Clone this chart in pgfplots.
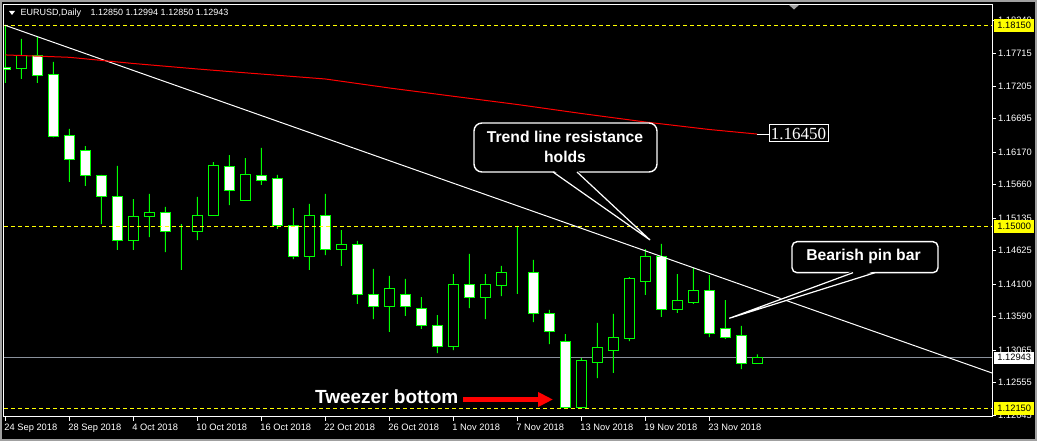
\documentclass[border=0pt]{standalone}
\usepackage{fontspec}
\setmainfont{Liberation Sans}
\newfontfamily\serifmt{Liberation Serif}
\usepackage{pgfplots}
\usepackage{pgfplotstable}
\pgfplotsset{compat=1.18}
\usetikzlibrary{arrows.meta}

\definecolor{lime}{HTML}{00FF00}
\definecolor{bidgray}{HTML}{8A919C}
\definecolor{mtyellow}{HTML}{FFFF00}
\definecolor{wingray}{HTML}{A0A0A0}

% EURUSD daily candles, 24 Sep 2018 = 0
\pgfplotstableread{
i O H L C
0 1.17490 1.18161 1.17251 1.17460
1 1.17476 1.17941 1.17314 1.17675
2 1.17675 1.17973 1.17251 1.17366
3 1.17377 1.17581 1.16397 1.16405
4 1.16420 1.16530 1.15699 1.16044
5 1.16185 1.16263 1.15636 1.15793
6 1.15793 1.15809 1.15040 1.15479
7 1.15479 1.15950 1.14633 1.14789
8 1.14774 1.15432 1.14633 1.15150
9 1.15150 1.15511 1.14836 1.15213
10 1.15213 1.15307 1.14601 1.14915
11 1.14915 1.15040 1.14319 1.14915
12 1.14915 1.15464 1.14789 1.15181
13 1.15166 1.16012 1.15166 1.15950
14 1.15934 1.16122 1.15338 1.15573
15 1.15401 1.16075 1.15401 1.15809
16 1.15793 1.16232 1.15652 1.15730
17 1.15746 1.15809 1.14962 1.15009
18 1.15009 1.15291 1.14491 1.14523
19 1.14523 1.15354 1.14319 1.15166
20 1.15166 1.15511 1.14554 1.14648
21 1.14648 1.14946 1.14382 1.14711
22 1.14711 1.14774 1.13786 1.13927
23 1.13927 1.14335 1.13550 1.13754
24 1.13739 1.14225 1.13347 1.14021
25 1.13927 1.14178 1.13598 1.13739
26 1.13723 1.13895 1.13394 1.13441
27 1.13441 1.13613 1.13017 1.13127
28 1.13127 1.14256 1.13064 1.14084
29 1.14084 1.14570 1.13723 1.13895
30 1.13880 1.14256 1.13550 1.14084
31 1.14068 1.14382 1.13911 1.14272
32 1.14272 1.15009 1.13943 1.14272
33 1.14272 1.14476 1.13503 1.13629
34 1.13629 1.13692 1.13158 1.13347
35 1.13190 1.13315 1.12160 1.12160
36 1.12160 1.12939 1.12160 1.12892
37 1.12876 1.13488 1.12625 1.13111
38 1.13049 1.13629 1.12704 1.13253
39 1.13237 1.14209 1.13205 1.14178
40 1.14131 1.14648 1.13927 1.14538
41 1.14538 1.14727 1.13582 1.13692
42 1.13692 1.14256 1.13645 1.13848
43 1.13817 1.14350 1.13786 1.14005
44 1.14005 1.14240 1.13268 1.13331
45 1.13409 1.13848 1.13237 1.13268
46 1.13284 1.13441 1.12766 1.12860
47 1.12850 1.12994 1.12850 1.12943
}\candles

% red moving average
\pgfplotstableread{
i ma
0 1.17691
4 1.17654
8 1.17557
12 1.17471
15 1.17411
20 1.17314
24 1.17173
28 1.17043
32 1.16914
36 1.16773
40 1.16640
44 1.16522
47 1.16450
}\ma

\pgfplotsset{
  mt/.style={
    at={(4pt,24pt)}, anchor=south west,
    scale only axis, width=988pt, height=412.5pt,
    xmin=-0.08, xmax=61.67,
    ymin=1.12014, ymax=1.18482,
  },
}
\tikzset{
  pricebox/.style={anchor=west, inner sep=0pt, minimum height=13pt,
    minimum width=40pt, font=\fontsize{9.3}{11}\selectfont, xshift=2pt},
  callout/.style={anchor=base, inner sep=0pt, text=white,
    font=\bfseries\fontsize{15.7}{19}\selectfont},
}

\begin{document}
\begin{tikzpicture}[x=1pt,y=1pt]
\path[use as bounding box] (0,0) rectangle (1037,441);
\fill[black] (0,0) rectangle (1037,441);

% frame, scales, bid line
\begin{axis}[
  mt,
  axis line style={white, line width=1pt},
  xtick pos=bottom, ytick pos=right,
  tick align=outside, major tick length=4pt,
  tick style={white, line width=0.8pt},
  xtick={0,4,...,44},
  xticklabels={24 Sep 2018, 28 Sep 2018, 4 Oct 2018, 10 Oct 2018, 16 Oct 2018,
    22 Oct 2018, 26 Oct 2018, 1 Nov 2018, 7 Nov 2018, 13 Nov 2018,
    19 Nov 2018, 23 Nov 2018},
  ytick={1.12045,1.12555,1.13065,1.13590,1.14100,1.14625,1.15135,
    1.15660,1.16170,1.16695,1.17205,1.17715,1.18240},
  yticklabels={1.12045,1.12555,1.13065,1.13590,1.14100,1.14625,1.15135,
    1.15660,1.16170,1.16695,1.17205,1.17715,1.18240},
  ticklabel style={font=\fontsize{9.3}{11}\selectfont, text=white},
  xticklabel style={anchor=north west, inner sep=0pt, xshift=-1pt, yshift=-2.5pt},
  yticklabel style={anchor=west, inner sep=0pt, xshift=2pt},
]
\addplot[bidgray, line width=1pt] coordinates {(-0.08,1.12943) (61.67,1.12943)};
\end{axis}

% candles: hidden base, lower wick, bull body, bear body, upper wick
\begin{axis}[mt, hide axis, ybar stacked]
\addplot[draw=none, fill=none, bar width=1pt] table[x=i, y=L] {\candles};
\addplot[draw=none, fill=lime, bar width=1pt]
  table[x=i, y expr={min(\thisrow{O},\thisrow{C})-\thisrow{L}}] {\candles};
\addplot[draw=lime, fill=black, line width=1pt, bar width=9.5pt]
  table[x=i, y expr={max(\thisrow{C}-\thisrow{O},0)}] {\candles};
\addplot[draw=lime, fill=white, line width=1pt, bar width=9.5pt]
  table[x=i, y expr={max(\thisrow{O}-\thisrow{C},0)}] {\candles};
\addplot[draw=none, fill=lime, bar width=1pt]
  table[x=i, y expr={\thisrow{H}-max(\thisrow{O},\thisrow{C})}] {\candles};
\end{axis}

% objects on the chart
\begin{axis}[mt, hide axis, clip mode=individual]
\addplot[mtyellow, line width=1pt, dash pattern=on 4pt off 3pt] coordinates {(-0.08,1.18150) (61.67,1.18150)};
\addplot[mtyellow, line width=1pt, dash pattern=on 4pt off 3pt] coordinates {(-0.08,1.15000) (61.67,1.15000)};
\addplot[mtyellow, line width=1pt, dash pattern=on 4pt off 3pt] coordinates {(-0.08,1.12150) (61.67,1.12150)};
\addplot[white, line width=1pt] coordinates {(0,1.18155) (61.67,1.12704)};
\addplot[red, line width=1pt] table[x=i, y=ma] {\ma};
\addplot[white, line width=1pt] coordinates {(47,1.16450) (47.8,1.16450)};
\node[pricebox, fill=mtyellow, text=black] at (axis cs:61.67,1.18150) {1.18150};
\node[pricebox, fill=mtyellow, text=black] at (axis cs:61.67,1.15000) {1.15000};
\node[pricebox, fill=mtyellow, text=black] at (axis cs:61.67,1.12150) {1.12150};
\node[pricebox, fill=white, text=black, minimum height=12pt] at (axis cs:61.67,1.12943) {1.12943};
\end{axis}

% annotations, in picture pixels from the top left
\begin{scope}[shift={(0,441)}, yscale=-1]
  % title
  \fill[white] (9,11) -- (15,11) -- (12,15) -- cycle;
  \node[anchor=base west, inner sep=0pt, text=white, font=\fontsize{9}{11}\selectfont]
    at (20.5,15.7) {EURUSD,Daily};
  \node[anchor=base west, inner sep=0pt, text=white, font=\fontsize{9}{11}\selectfont]
    at (90.5,15.7) {1.12850 1.12994 1.12850 1.12943};
  \fill[wingray] (789,5) -- (799,5) -- (794,9.5) -- cycle;
  % callout 1
  \draw[white, line width=1.4pt, fill=black, rounded corners=8pt] (474,123) rectangle (657,172);
  \fill[black] (553,170) -- (650,240) -- (577,170) -- cycle;
  \draw[white, line width=1.2pt] (553,172) -- (650,240) -- (577,172);
  \node[callout] at (565,142.7) {Trend line resistance};
  \node[callout] at (565,162.5) {holds};
  % callout 2
  \draw[white, line width=1.4pt, fill=black, rounded corners=5pt] (792,241.7) rectangle (938,272.7);
  \fill[black] (853,271) -- (729.3,318.3) -- (875,271) -- cycle;
  \draw[white, line width=1.2pt] (853,272.7) -- (729.3,318.3) -- (875,272.7);
  \node[callout] at (863.5,260.7) {Bearish pin bar};
  % tweezer bottom
  \node[anchor=base east, inner sep=0pt, text=white, font=\bfseries\fontsize{19}{22}\selectfont]
    at (458.5,403.3) {Tweezer bottom};
  \draw[red, line width=4.5pt, -{Triangle[length=15pt, width=14pt]}] (463,399.5) -- (553,399.5);
  % MA price label
  \draw[white, line width=1pt, fill=black] (769,125) rectangle (828,142);
  \node[inner sep=0pt, text=white, font=\serifmt\fontsize{17}{20}\selectfont] at (798.5,133.5) {1.16450};
\end{scope}
\draw[wingray, line width=2pt] (1,1) rectangle (1036,440);
\end{tikzpicture}
\end{document}
